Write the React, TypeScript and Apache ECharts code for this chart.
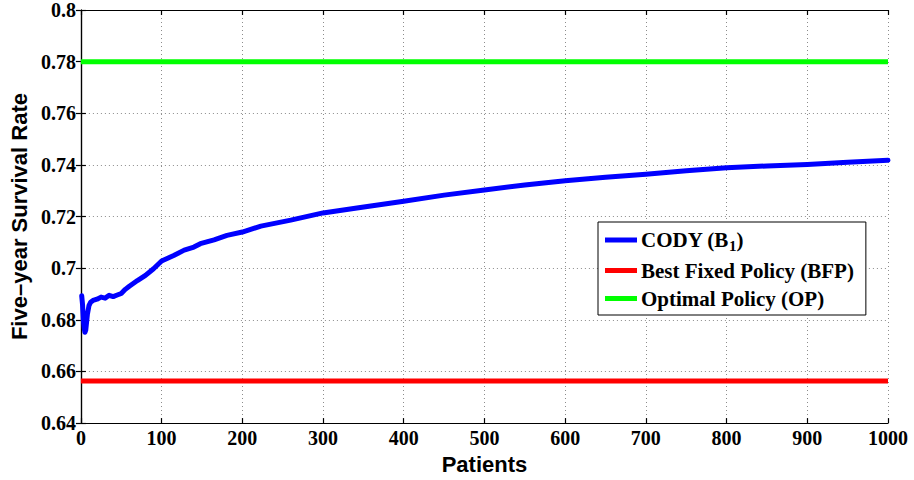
import React, { useEffect, useRef } from "react";
import * as echarts from "echarts";

const patients = [1, 2, 3, 4, 5, 6, 8, 10, 12, 15, 20, 25, 30, 35, 40, 45, 50, 55, 60, 70, 80, 90, 100, 115, 128, 140, 148, 165, 181, 200, 223, 260, 300, 342, 400, 450, 500, 550, 600, 650, 700, 750, 800, 850, 900, 950, 1000];
const codyRate = [0.6893, 0.686, 0.68, 0.677, 0.6752, 0.676, 0.682, 0.6855, 0.6868, 0.6875, 0.688, 0.6888, 0.6884, 0.6895, 0.689, 0.6896, 0.6902, 0.6918, 0.693, 0.6952, 0.6972, 0.6998, 0.7028, 0.7049, 0.707, 0.7082, 0.7095, 0.711, 0.7127, 0.714, 0.7163, 0.7186, 0.7214, 0.7233, 0.7259, 0.7283, 0.7303, 0.7322, 0.7339, 0.7352, 0.7364, 0.7377, 0.7389, 0.7396, 0.7402, 0.741, 0.7418];
const bfpRate = 0.6563;
const opRate = 0.78;
const xRange = [0, 1000];
const seriesNames = ["CODY (B1)", "Best Fixed Policy (BFP)", "Optimal Policy (OP)"];
const seriesColors = ["#0000ff", "#ff0000", "#00ff00"];

export default function App() {
  const ref = useRef<HTMLDivElement>(null);
  useEffect(() => {
    if (!ref.current) return;
    const chart = echarts.init(ref.current, null, { renderer: "svg" });
    const serif = "'Liberation Serif', 'Times New Roman', serif";
    const sans = "'Liberation Sans', Arial, sans-serif";
    const tickLabel = { fontFamily: serif, fontWeight: "bold" as const, fontSize: 20, color: "#000" };
    const axisLine = { show: true, lineStyle: { color: "#000", width: 1.2 } };
    const axisTick = { show: true, inside: true, length: 5, lineStyle: { color: "#000", width: 1.2 } };
    const splitLine = { show: true, lineStyle: { color: "#8c8c8c", type: [1, 3] as any, width: 1 } };
    chart.setOption({
      animation: false,
      backgroundColor: "#fff",
      grid: { left: 80, right: 26, top: 8, bottom: 54 },
      xAxis: [
        {
          type: "value", min: 0, max: 1000, interval: 100, position: "bottom",
          name: "Patients", nameLocation: "middle", nameGap: 23,
          nameTextStyle: { fontFamily: sans, fontWeight: "bold", fontSize: 22, color: "#000" },
          axisLabel: { ...tickLabel, margin: 5, formatter: (v: number) => String(v) },
          axisLine, axisTick, splitLine,
        },
        {
          type: "value", min: 0, max: 1000, interval: 100, position: "top",
          axisLabel: { show: false }, axisLine, axisTick, splitLine: { show: false },
        },
      ],
      yAxis: [
        {
          type: "value", min: 0.64, max: 0.8, interval: 0.02, position: "left",
          name: "Five\u2013year Survival Rate", nameLocation: "middle", nameGap: 47,
          nameTextStyle: { fontFamily: sans, fontWeight: "bold", fontSize: 22, color: "#000" },
          axisLabel: { ...tickLabel, margin: 5, formatter: (v: number) => String(Number(v.toFixed(2))) },
          axisLine, axisTick, splitLine,
        },
        {
          type: "value", min: 0.64, max: 0.8, interval: 0.02, position: "right",
          axisLabel: { show: false }, axisLine, axisTick, splitLine: { show: false },
        },
      ],
      legend: {
        orient: "vertical",
        left: 598,
        top: 222,
        padding: [6, 12, 6, 7],
        itemGap: 7,
        itemWidth: 32,
        itemHeight: 5,
        icon: "rect",
        backgroundColor: "#fff",
        borderColor: "#000",
        borderWidth: 1,
        data: seriesNames,
        formatter: (name: string) =>
          name === seriesNames[0] ? "{a|CODY (B}{s|1}{a|)}" : "{a|" + name + "}",
        textStyle: {
          padding: [0, 0, 0, -1],
          rich: {
            a: { fontFamily: serif, fontWeight: "bold", fontSize: 21, color: "#000", lineHeight: 26 },
            s: { fontFamily: serif, fontWeight: "bold", fontSize: 15, color: "#000", verticalAlign: "bottom", padding: [10, 0, 0, 0], lineHeight: 26 },
          },
        },
      },
      series: [
        {
          name: seriesNames[0], type: "line", showSymbol: false, symbol: "none",
          data: patients.map((p, i) => [p, codyRate[i]]),
          lineStyle: { color: seriesColors[0], width: 5, join: "round", cap: "round" },
          itemStyle: { color: seriesColors[0] },
          z: 3,
        },
        {
          name: seriesNames[1], type: "line", showSymbol: false, symbol: "none",
          data: xRange.map((x) => [x, bfpRate]),
          lineStyle: { color: seriesColors[1], width: 5 },
          itemStyle: { color: seriesColors[1] },
        },
        {
          name: seriesNames[2], type: "line", showSymbol: false, symbol: "none",
          data: xRange.map((x) => [x, opRate]),
          lineStyle: { color: seriesColors[2], width: 5 },
          itemStyle: { color: seriesColors[2] },
        },
      ],
    });
    return () => chart.dispose();
  }, []);
  return <div ref={ref} style={{ position: "fixed", left: 0, top: 0, width: 914, height: 480 }} />;
}
